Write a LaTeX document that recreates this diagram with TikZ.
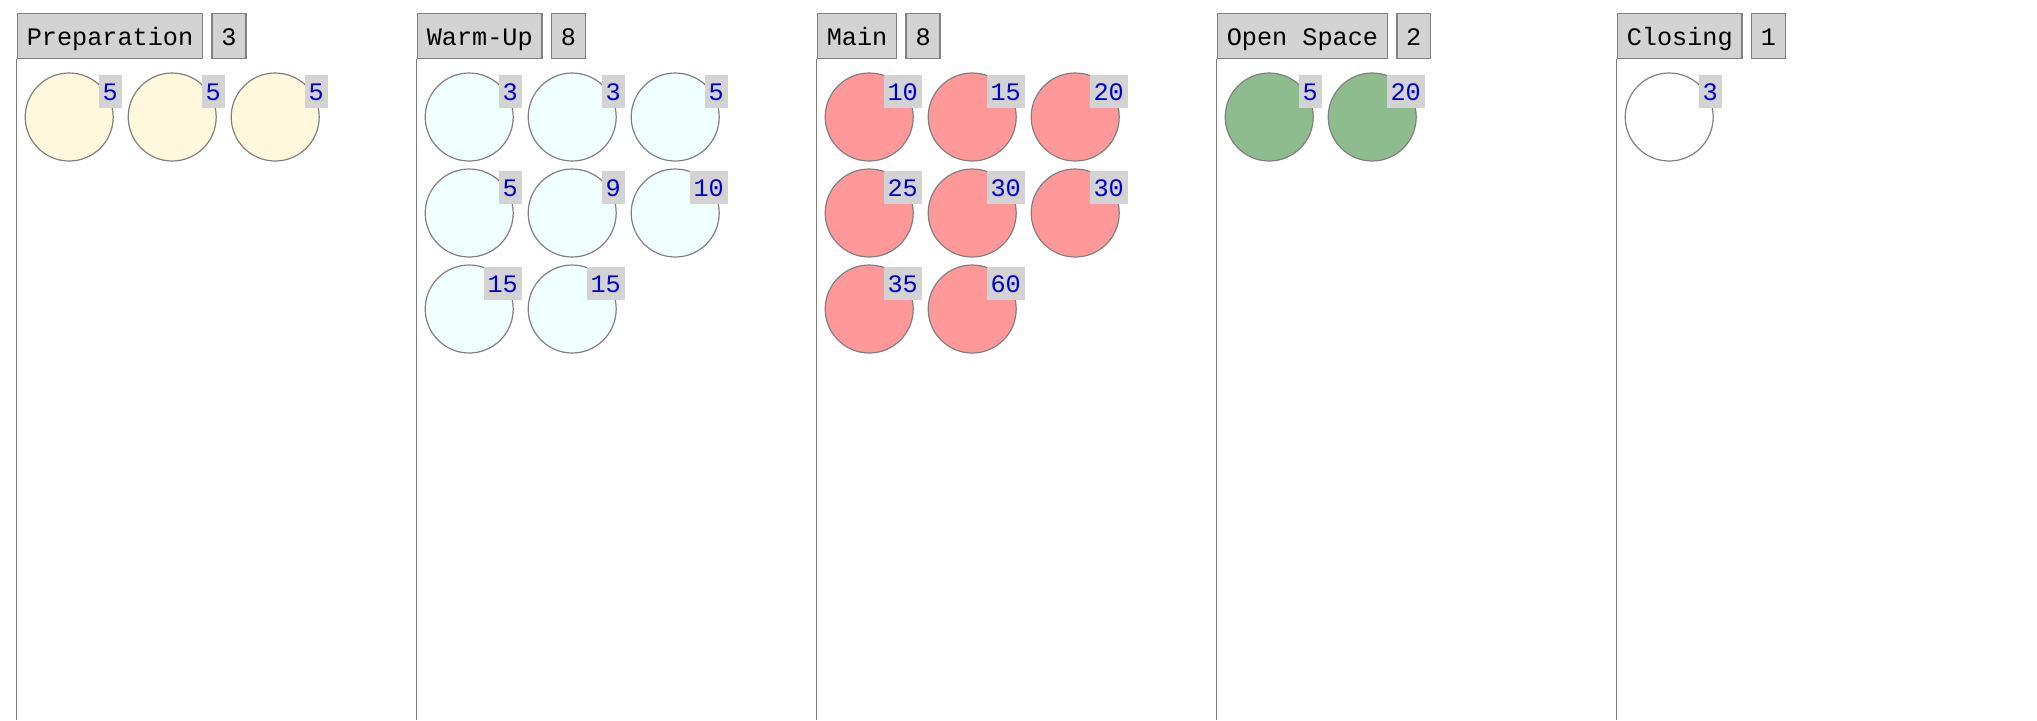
\documentclass[tikz,border=0pt]{standalone}
\usepackage{fontspec}
\newfontfamily\boardfont{Liberation Mono}
\usepackage{tikz}
\usetikzlibrary{positioning}
\definecolor{lanegray}{HTML}{808080}
\definecolor{tabgray}{HTML}{D3D3D3}
\definecolor{prepfill}{HTML}{FFF8DC}
\definecolor{warmfill}{HTML}{F0FFFF}
\definecolor{mainfill}{HTML}{FF9999}
\definecolor{openfill}{HTML}{8FBC8F}
\definecolor{minblue}{HTML}{0000CD}
\newcommand{\BoardFont}{\boardfont\fontsize{12.6}{15}\selectfont}
\tikzset{
    lane/.style={draw=lanegray, line width=0.7pt},
    head/.style={draw=lanegray, fill=tabgray, line width=0.7pt, anchor=north west,
      minimum height=22.5pt, inner xsep=4.7pt, inner ysep=0pt,
      text height=9.6pt, text depth=0pt, font=\BoardFont},
    slot/.style={circle, draw=lanegray, line width=0.6pt, minimum size=44pt,
      inner sep=0pt, outer sep=0pt},
    badge/.style={fill=tabgray, anchor=north east, xshift=26.5pt, yshift=21pt,
      minimum height=16.5pt, inner xsep=2pt, inner ysep=0pt,
      text height=8.7pt, text depth=0pt, text=minblue, font=\BoardFont},
}

\begin{document}
\begin{tikzpicture}[x=0.5pt, y=-0.5pt, node distance=4pt and 7.5pt]
    \useasboundingbox (0,0) rectangle (2037,720);

    % lanes
    \coordinate (prepbot) at (16.7,720);
    \coordinate (warmbot) at (416.7,720);
    \coordinate (mainbot) at (816.7,720);
    \coordinate (openbot) at (1216.7,720);
    \coordinate (closbot) at (1616.7,720);

    \node[head] (prep) at (16.7,12.7) {Preparation};
    \node[head, right=4pt of prep] (prepn) {3};
    \node[head] (warm) at (416.7,12.7) {Warm-Up};
    \node[head, right=4pt of warm] (warmn) {8};
    \node[head] (main) at (816.7,12.7) {Main};
    \node[head, right=4pt of main] (mainn) {8};
    \node[head] (open) at (1216.7,12.7) {Open Space};
    \node[head, right=4pt of open] (openn) {2};
    \node[head] (clos) at (1616.7,12.7) {Closing};
    \node[head, right=4pt of clos] (closn) {1};

    \draw[lane] (prep.south west) -- (prepbot);
    \draw[lane] (warm.south west) -- (warmbot);
    \draw[lane] (main.south west) -- (mainbot);
    \draw[lane] (open.south west) -- (openbot);
    \draw[lane] (clos.south west) -- (closbot);

    % Preparation
    \node[slot, fill=prepfill] (p1) at (69.2,117) {};
    \node[slot, fill=prepfill, right=of p1] (p2) {};
    \node[slot, fill=prepfill, right=of p2] (p3) {};
    \node[badge] (p1t) at (p1.center) {5};
    \node[badge] (p2t) at (p2.center) {5};
    \node[badge] (p3t) at (p3.center) {5};

    % Warm-Up
    \node[slot, fill=warmfill] (w1) at (469.2,117) {};
    \node[slot, fill=warmfill, right=of w1] (w2) {};
    \node[slot, fill=warmfill, right=of w2] (w3) {};
    \node[slot, fill=warmfill, below=of w1] (w4) {};
    \node[slot, fill=warmfill, right=of w4] (w5) {};
    \node[slot, fill=warmfill, right=of w5] (w6) {};
    \node[slot, fill=warmfill, below=of w4] (w7) {};
    \node[slot, fill=warmfill, right=of w7] (w8) {};
    \node[badge] (w1t) at (w1.center) {3};
    \node[badge] (w2t) at (w2.center) {3};
    \node[badge] (w3t) at (w3.center) {5};
    \node[badge] (w4t) at (w4.center) {5};
    \node[badge] (w5t) at (w5.center) {9};
    \node[badge] (w6t) at (w6.center) {10};
    \node[badge] (w7t) at (w7.center) {15};
    \node[badge] (w8t) at (w8.center) {15};

    % Main
    \node[slot, fill=mainfill] (m1) at (869.2,117) {};
    \node[slot, fill=mainfill, right=of m1] (m2) {};
    \node[slot, fill=mainfill, right=of m2] (m3) {};
    \node[slot, fill=mainfill, below=of m1] (m4) {};
    \node[slot, fill=mainfill, right=of m4] (m5) {};
    \node[slot, fill=mainfill, right=of m5] (m6) {};
    \node[slot, fill=mainfill, below=of m4] (m7) {};
    \node[slot, fill=mainfill, right=of m7] (m8) {};
    \node[badge] (m1t) at (m1.center) {10};
    \node[badge] (m2t) at (m2.center) {15};
    \node[badge] (m3t) at (m3.center) {20};
    \node[badge] (m4t) at (m4.center) {25};
    \node[badge] (m5t) at (m5.center) {30};
    \node[badge] (m6t) at (m6.center) {30};
    \node[badge] (m7t) at (m7.center) {35};
    \node[badge] (m8t) at (m8.center) {60};

    % Open Space
    \node[slot, fill=openfill] (o1) at (1269.2,117) {};
    \node[slot, fill=openfill, right=of o1] (o2) {};
    \node[badge] (o1t) at (o1.center) {5};
    \node[badge] (o2t) at (o2.center) {20};

    % Closing
    \node[slot, fill=white] (c1) at (1669.2,117) {};
    \node[badge] (c1t) at (c1.center) {3};
\end{tikzpicture}
\end{document}
